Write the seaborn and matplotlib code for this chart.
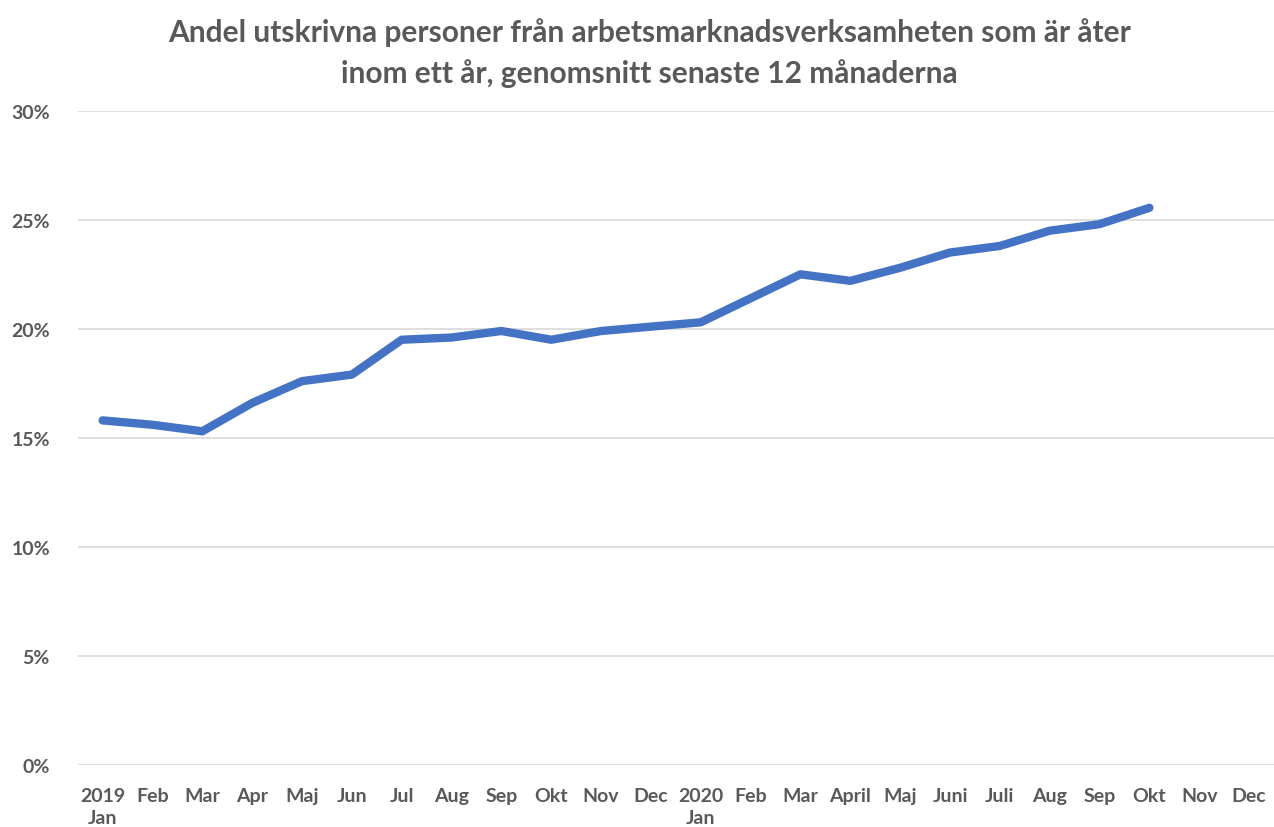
import pandas as pd
import matplotlib
matplotlib.use('Agg')
import matplotlib.pyplot as plt
import seaborn as sns

# Month labels (two years, Excel-style grouped axis)
months = ['2019\nJan', 'Feb', 'Mar', 'Apr', 'Maj', 'Jun', 'Jul', 'Aug', 'Sep', 'Okt', 'Nov', 'Dec',
          '2020\nJan', 'Feb', 'Mar', 'April', 'Maj', 'Juni', 'Juli', 'Aug', 'Sep', 'Okt', 'Nov', 'Dec']

# Share returning within a year (%), data only up to Okt 2020
values = [15.8, 15.6, 15.3, 16.6, 17.6, 17.9, 19.5, 19.6, 19.9, 19.5, 19.9, 20.1,
          20.3, 21.4, 22.5, 22.2, 22.8, 23.5, 23.8, 24.5, 24.8, 25.55]

title = 'Andel utskrivna personer från arbetsmarknadsverksamheten som är åter\ninom ett år, genomsnitt senaste 12 månaderna'

df = pd.DataFrame({'pos': range(len(values)), 'value': values})

sns.set_style('white')
plt.rcParams['font.family'] = ['Lato', 'DejaVu Sans']

grey = '#595959'
fig, ax = plt.subplots(figsize=(12.74, 8.28), dpi=100)
fig.subplots_adjust(left=0.061, right=1.0, top=0.865, bottom=0.075)

sns.lineplot(data=df, x='pos', y='value', ax=ax, color='#4472C4', linewidth=6,
             solid_capstyle='round', solid_joinstyle='round')

ax.set_xlim(-0.5, len(months) - 0.5)
ax.set_ylim(0, 30)
ax.set_xticks(range(len(months)))
ax.set_xticklabels(months, linespacing=1.35)
ax.set_yticks(range(0, 31, 5))
ax.set_yticklabels([f'{v}%' for v in range(0, 31, 5)])
ax.yaxis.grid(True, color='#D9D9D9', linewidth=1.2)
ax.set_axisbelow(True)
for s in ax.spines.values():
    s.set_visible(False)
ax.tick_params(axis='both', length=0, labelsize=14, labelcolor=grey)
for lab in ax.get_xticklabels() + ax.get_yticklabels():
    lab.set_fontweight('bold')
ax.tick_params(axis='x', pad=16)
ax.tick_params(axis='y', pad=20)
ax.set_xlabel('')
ax.set_ylabel('')

fig.suptitle(title, fontsize=21.5, fontweight='bold', color=grey, x=0.51, y=0.978, linespacing=1.5)

plt.savefig('out.png', dpi=100)
plt.close()
